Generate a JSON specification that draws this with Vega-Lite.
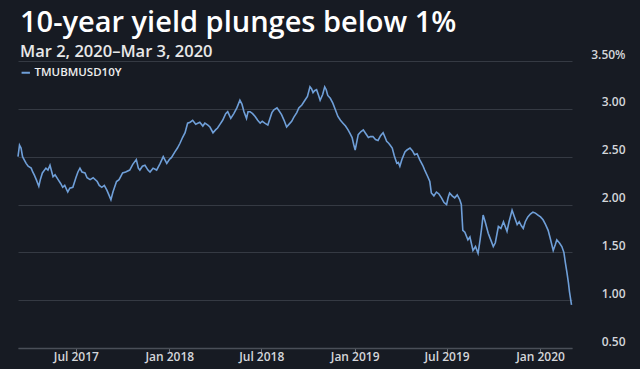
{
  "$schema": "https://vega.github.io/schema/vega-lite/v6.json",
  "width": 554,
  "height": 287,
  "autosize": {"type": "none"},
  "padding": {"left": 18, "top": 61, "right": 68, "bottom": 21},
  "background": "#171b23",
  "title": {
    "text": "10-year yield plunges below 1%",
    "subtitle": "Mar 2, 2020–Mar 3, 2020",
    "anchor": "start",
    "frame": "group",
    "dx": 2,
    "offset": -12,
    "font": "Open Sans",
    "fontSize": 29,
    "fontWeight": 600,
    "color": "#ffffff",
    "subtitleFont": "Open Sans",
    "subtitleFontSize": 16.5,
    "subtitleFontWeight": 600,
    "subtitleColor": "#e8e8e8",
    "subtitlePadding": 6
  },
  "config": {
    "view": {"stroke": null},
    "axis": {"labelFont": "Open Sans", "labelFontWeight": 600, "labelColor": "#d4d6da", "labelFontSize": 12}
  },
  "data": {
    "values": [
      {"date": "2017-03-09", "yield": 2.50},
      {"date": "2017-03-12", "yield": 2.62},
      {"date": "2017-03-15", "yield": 2.59},
      {"date": "2017-03-18", "yield": 2.50},
      {"date": "2017-03-21", "yield": 2.47},
      {"date": "2017-03-25", "yield": 2.43},
      {"date": "2017-03-29", "yield": 2.40},
      {"date": "2017-04-04", "yield": 2.38},
      {"date": "2017-04-07", "yield": 2.34},
      {"date": "2017-04-10", "yield": 2.31},
      {"date": "2017-04-14", "yield": 2.26},
      {"date": "2017-04-19", "yield": 2.19},
      {"date": "2017-04-22", "yield": 2.26},
      {"date": "2017-04-26", "yield": 2.33},
      {"date": "2017-05-03", "yield": 2.38},
      {"date": "2017-05-07", "yield": 2.36},
      {"date": "2017-05-11", "yield": 2.41},
      {"date": "2017-05-17", "yield": 2.29},
      {"date": "2017-05-21", "yield": 2.31},
      {"date": "2017-05-27", "yield": 2.26},
      {"date": "2017-06-01", "yield": 2.22},
      {"date": "2017-06-05", "yield": 2.18},
      {"date": "2017-06-09", "yield": 2.20},
      {"date": "2017-06-15", "yield": 2.13},
      {"date": "2017-06-19", "yield": 2.17},
      {"date": "2017-06-25", "yield": 2.18},
      {"date": "2017-07-01", "yield": 2.28},
      {"date": "2017-07-05", "yield": 2.34},
      {"date": "2017-07-09", "yield": 2.38},
      {"date": "2017-07-13", "yield": 2.34},
      {"date": "2017-07-19", "yield": 2.33},
      {"date": "2017-07-23", "yield": 2.28},
      {"date": "2017-07-29", "yield": 2.26},
      {"date": "2017-08-04", "yield": 2.28},
      {"date": "2017-08-12", "yield": 2.24},
      {"date": "2017-08-16", "yield": 2.20},
      {"date": "2017-08-21", "yield": 2.18},
      {"date": "2017-08-26", "yield": 2.20},
      {"date": "2017-08-31", "yield": 2.15},
      {"date": "2017-09-04", "yield": 2.10},
      {"date": "2017-09-08", "yield": 2.05},
      {"date": "2017-09-12", "yield": 2.13},
      {"date": "2017-09-19", "yield": 2.24},
      {"date": "2017-09-24", "yield": 2.26},
      {"date": "2017-09-28", "yield": 2.30},
      {"date": "2017-10-01", "yield": 2.33},
      {"date": "2017-10-07", "yield": 2.34},
      {"date": "2017-10-15", "yield": 2.36},
      {"date": "2017-10-21", "yield": 2.42},
      {"date": "2017-10-28", "yield": 2.47},
      {"date": "2017-11-01", "yield": 2.38},
      {"date": "2017-11-04", "yield": 2.36},
      {"date": "2017-11-09", "yield": 2.40},
      {"date": "2017-11-14", "yield": 2.41},
      {"date": "2017-11-20", "yield": 2.36},
      {"date": "2017-11-24", "yield": 2.34},
      {"date": "2017-11-30", "yield": 2.38},
      {"date": "2017-12-07", "yield": 2.36},
      {"date": "2017-12-14", "yield": 2.43},
      {"date": "2017-12-20", "yield": 2.50},
      {"date": "2017-12-27", "yield": 2.43},
      {"date": "2018-01-01", "yield": 2.47},
      {"date": "2018-01-05", "yield": 2.49},
      {"date": "2018-01-12", "yield": 2.55},
      {"date": "2018-01-17", "yield": 2.59},
      {"date": "2018-01-22", "yield": 2.64},
      {"date": "2018-01-27", "yield": 2.70},
      {"date": "2018-02-01", "yield": 2.75},
      {"date": "2018-02-06", "yield": 2.85},
      {"date": "2018-02-11", "yield": 2.86},
      {"date": "2018-02-16", "yield": 2.88},
      {"date": "2018-02-22", "yield": 2.84},
      {"date": "2018-03-02", "yield": 2.86},
      {"date": "2018-03-08", "yield": 2.82},
      {"date": "2018-03-12", "yield": 2.85},
      {"date": "2018-03-18", "yield": 2.83},
      {"date": "2018-03-22", "yield": 2.81},
      {"date": "2018-03-28", "yield": 2.75},
      {"date": "2018-04-02", "yield": 2.78},
      {"date": "2018-04-06", "yield": 2.80},
      {"date": "2018-04-11", "yield": 2.84},
      {"date": "2018-04-16", "yield": 2.88},
      {"date": "2018-04-22", "yield": 2.95},
      {"date": "2018-04-26", "yield": 2.97},
      {"date": "2018-05-02", "yield": 2.90},
      {"date": "2018-05-08", "yield": 2.95},
      {"date": "2018-05-14", "yield": 3.01},
      {"date": "2018-05-20", "yield": 3.09},
      {"date": "2018-05-24", "yield": 3.05},
      {"date": "2018-05-28", "yield": 2.97},
      {"date": "2018-06-02", "yield": 2.90},
      {"date": "2018-06-05", "yield": 2.97},
      {"date": "2018-06-09", "yield": 2.97},
      {"date": "2018-06-14", "yield": 2.95},
      {"date": "2018-06-19", "yield": 2.92},
      {"date": "2018-06-24", "yield": 2.88},
      {"date": "2018-06-29", "yield": 2.85},
      {"date": "2018-07-03", "yield": 2.87},
      {"date": "2018-07-08", "yield": 2.85},
      {"date": "2018-07-14", "yield": 2.83},
      {"date": "2018-07-22", "yield": 2.96},
      {"date": "2018-07-26", "yield": 2.99},
      {"date": "2018-08-01", "yield": 3.01},
      {"date": "2018-08-05", "yield": 2.98},
      {"date": "2018-08-10", "yield": 2.94},
      {"date": "2018-08-15", "yield": 2.88},
      {"date": "2018-08-20", "yield": 2.81},
      {"date": "2018-08-25", "yield": 2.84},
      {"date": "2018-08-30", "yield": 2.87},
      {"date": "2018-09-03", "yield": 2.91},
      {"date": "2018-09-09", "yield": 2.96},
      {"date": "2018-09-13", "yield": 3.01},
      {"date": "2018-09-19", "yield": 3.04},
      {"date": "2018-09-25", "yield": 3.09},
      {"date": "2018-09-30", "yield": 3.13},
      {"date": "2018-10-05", "yield": 3.23},
      {"date": "2018-10-08", "yield": 3.21},
      {"date": "2018-10-11", "yield": 3.17},
      {"date": "2018-10-14", "yield": 3.19},
      {"date": "2018-10-18", "yield": 3.20},
      {"date": "2018-10-22", "yield": 3.14},
      {"date": "2018-10-25", "yield": 3.09},
      {"date": "2018-10-30", "yield": 3.15},
      {"date": "2018-11-03", "yield": 3.23},
      {"date": "2018-11-06", "yield": 3.20},
      {"date": "2018-11-09", "yield": 3.14},
      {"date": "2018-11-14", "yield": 3.11},
      {"date": "2018-11-19", "yield": 3.06},
      {"date": "2018-11-24", "yield": 2.99},
      {"date": "2018-11-29", "yield": 2.92},
      {"date": "2018-12-04", "yield": 2.88},
      {"date": "2018-12-09", "yield": 2.85},
      {"date": "2018-12-14", "yield": 2.82},
      {"date": "2018-12-19", "yield": 2.78},
      {"date": "2018-12-23", "yield": 2.74},
      {"date": "2018-12-27", "yield": 2.70},
      {"date": "2018-12-30", "yield": 2.63},
      {"date": "2019-01-02", "yield": 2.57},
      {"date": "2019-01-05", "yield": 2.65},
      {"date": "2019-01-08", "yield": 2.73},
      {"date": "2019-01-13", "yield": 2.76},
      {"date": "2019-01-18", "yield": 2.78},
      {"date": "2019-01-23", "yield": 2.74},
      {"date": "2019-01-28", "yield": 2.70},
      {"date": "2019-02-01", "yield": 2.71},
      {"date": "2019-02-06", "yield": 2.71},
      {"date": "2019-02-11", "yield": 2.68},
      {"date": "2019-02-16", "yield": 2.67},
      {"date": "2019-02-21", "yield": 2.72},
      {"date": "2019-02-26", "yield": 2.75},
      {"date": "2019-03-02", "yield": 2.70},
      {"date": "2019-03-05", "yield": 2.66},
      {"date": "2019-03-09", "yield": 2.64},
      {"date": "2019-03-12", "yield": 2.62},
      {"date": "2019-03-16", "yield": 2.59},
      {"date": "2019-03-20", "yield": 2.51},
      {"date": "2019-03-25", "yield": 2.43},
      {"date": "2019-03-28", "yield": 2.44},
      {"date": "2019-03-31", "yield": 2.40},
      {"date": "2019-04-04", "yield": 2.47},
      {"date": "2019-04-10", "yield": 2.55},
      {"date": "2019-04-14", "yield": 2.57},
      {"date": "2019-04-20", "yield": 2.59},
      {"date": "2019-04-25", "yield": 2.56},
      {"date": "2019-04-29", "yield": 2.52},
      {"date": "2019-05-04", "yield": 2.53},
      {"date": "2019-05-09", "yield": 2.47},
      {"date": "2019-05-15", "yield": 2.41},
      {"date": "2019-05-19", "yield": 2.36},
      {"date": "2019-05-25", "yield": 2.29},
      {"date": "2019-05-29", "yield": 2.24},
      {"date": "2019-06-01", "yield": 2.12},
      {"date": "2019-06-06", "yield": 2.09},
      {"date": "2019-06-11", "yield": 2.13},
      {"date": "2019-06-16", "yield": 2.11},
      {"date": "2019-06-21", "yield": 2.07},
      {"date": "2019-06-26", "yield": 2.02},
      {"date": "2019-07-01", "yield": 2.00},
      {"date": "2019-07-04", "yield": 2.07},
      {"date": "2019-07-07", "yield": 2.12},
      {"date": "2019-07-12", "yield": 2.09},
      {"date": "2019-07-17", "yield": 2.07},
      {"date": "2019-07-22", "yield": 2.10},
      {"date": "2019-07-27", "yield": 2.05},
      {"date": "2019-07-30", "yield": 2.00},
      {"date": "2019-08-02", "yield": 1.73},
      {"date": "2019-08-06", "yield": 1.71},
      {"date": "2019-08-12", "yield": 1.63},
      {"date": "2019-08-16", "yield": 1.66},
      {"date": "2019-08-22", "yield": 1.52},
      {"date": "2019-08-27", "yield": 1.56},
      {"date": "2019-09-01", "yield": 1.49},
      {"date": "2019-09-05", "yield": 1.63},
      {"date": "2019-09-08", "yield": 1.75},
      {"date": "2019-09-11", "yield": 1.89},
      {"date": "2019-09-15", "yield": 1.82},
      {"date": "2019-09-21", "yield": 1.70},
      {"date": "2019-09-26", "yield": 1.63},
      {"date": "2019-10-01", "yield": 1.56},
      {"date": "2019-10-05", "yield": 1.60},
      {"date": "2019-10-11", "yield": 1.77},
      {"date": "2019-10-16", "yield": 1.75},
      {"date": "2019-10-21", "yield": 1.82},
      {"date": "2019-10-28", "yield": 1.72},
      {"date": "2019-11-01", "yield": 1.82},
      {"date": "2019-11-07", "yield": 1.94},
      {"date": "2019-11-11", "yield": 1.88},
      {"date": "2019-11-17", "yield": 1.79},
      {"date": "2019-11-21", "yield": 1.82},
      {"date": "2019-11-25", "yield": 1.78},
      {"date": "2019-11-29", "yield": 1.75},
      {"date": "2019-12-03", "yield": 1.82},
      {"date": "2019-12-08", "yield": 1.87},
      {"date": "2019-12-13", "yield": 1.90},
      {"date": "2019-12-18", "yield": 1.92},
      {"date": "2019-12-23", "yield": 1.91},
      {"date": "2019-12-28", "yield": 1.89},
      {"date": "2020-01-02", "yield": 1.87},
      {"date": "2020-01-07", "yield": 1.84},
      {"date": "2020-01-12", "yield": 1.79},
      {"date": "2020-01-17", "yield": 1.73},
      {"date": "2020-01-21", "yield": 1.65},
      {"date": "2020-01-27", "yield": 1.52},
      {"date": "2020-01-31", "yield": 1.58},
      {"date": "2020-02-03", "yield": 1.63},
      {"date": "2020-02-08", "yield": 1.60},
      {"date": "2020-02-13", "yield": 1.56},
      {"date": "2020-02-17", "yield": 1.50},
      {"date": "2020-02-20", "yield": 1.39},
      {"date": "2020-02-23", "yield": 1.29},
      {"date": "2020-02-26", "yield": 1.18},
      {"date": "2020-02-28", "yield": 1.09},
      {"date": "2020-03-03", "yield": 0.95}
    ]
  },
  "mark": {"type": "line", "strokeWidth": 1.6, "interpolate": "linear"},
  "encoding": {
    "x": {
      "field": "date",
      "type": "temporal",
      "scale": {"type": "utc", "domain": ["2017-03-09", "2020-03-04"]},
      "axis": {
        "title": null,
        "format": "%b %Y",
        "tickCount": {"interval": "month", "step": 6},
        "grid": false,
        "domainColor": "#4a4f58",
        "domainWidth": 1.5,
        "tickColor": "#6a6f78",
        "tickSize": 4,
        "labelPadding": -1,
        "labelBaseline": "top"
      }
    },
    "y": {
      "field": "yield",
      "type": "quantitative",
      "scale": {"domain": [0.5, 3.5], "nice": false, "zero": false},
      "axis": {
        "orient": "right",
        "title": null,
        "values": [0.5, 1, 1.5, 2, 2.5, 3, 3.5],
        "labelExpr": "datum.value == 3.5 ? '3.50%' : format(datum.value, '.2f')",
        "domain": false,
        "ticks": false,
        "tickSize": 0,
        "grid": true,
        "gridColor": "#353a43",
        "gridWidth": 1,
        "labelAlign": "right",
        "labelBaseline": "middle",
        "labelPadding": 53,
        "labelOffset": -7
      }
    },
    "color": {
      "datum": "TMUBMUSD10Y",
      "scale": {"range": ["#6f9fd8"]},
      "legend": {
        "title": null,
        "orient": "none",
        "legendX": 2,
        "legendY": 6,
        "symbolType": "stroke",
        "symbolSize": 70,
        "symbolStrokeWidth": 2,
        "labelFont": "Open Sans",
        "labelFontWeight": 600,
        "labelFontSize": 11.5,
        "labelColor": "#eeeeee",
        "labelOffset": 3
      }
    }
  }
}
